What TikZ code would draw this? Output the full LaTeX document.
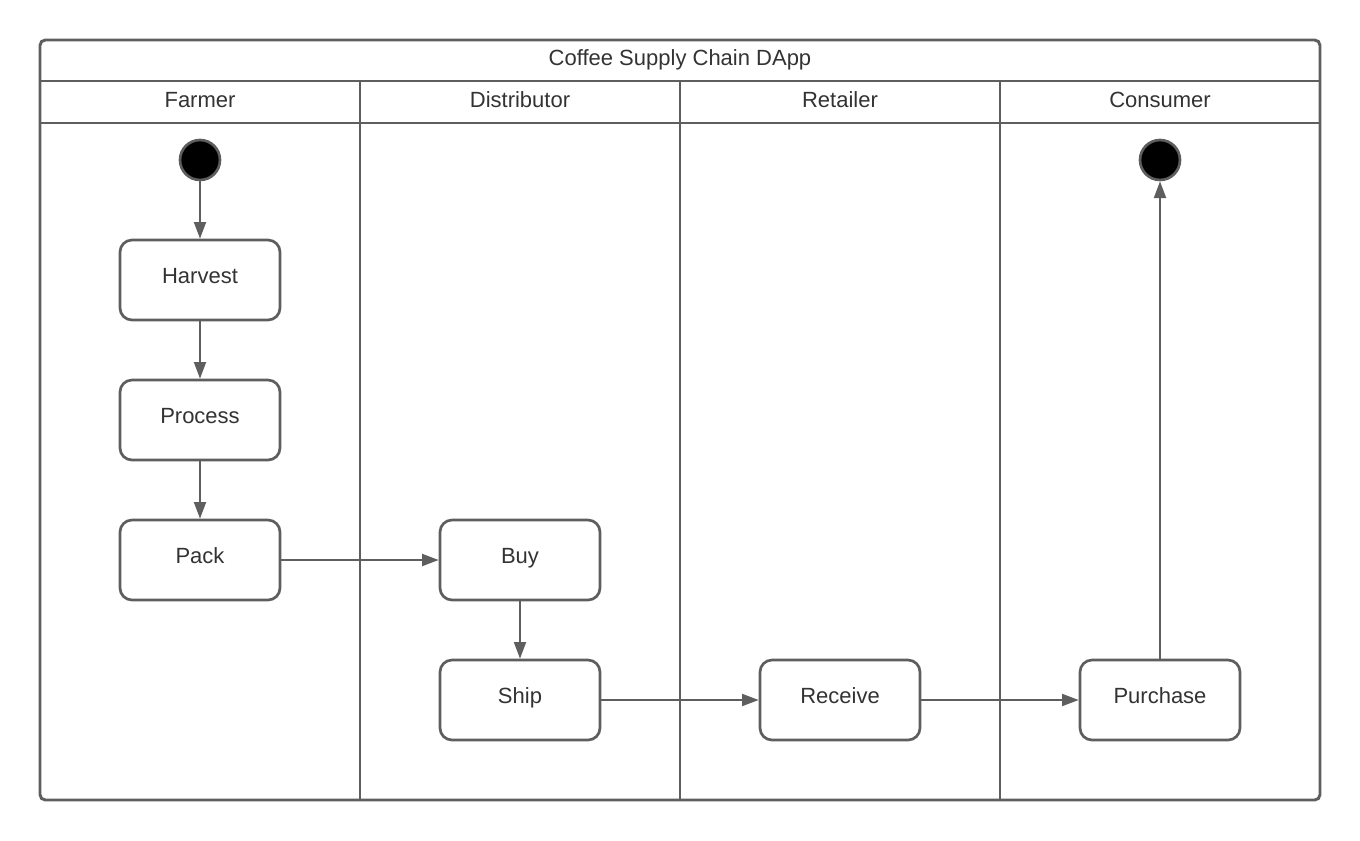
\documentclass[tikz,border=0pt]{standalone}
\usepackage{fontspec}
\setmainfont{Liberation Sans}
\usetikzlibrary{arrows.meta}
\definecolor{lc}{HTML}{5E5E5E}
\definecolor{tc}{HTML}{333333}
\tikzset{
  frame/.style={draw=lc, line width=2.2pt},
  act/.style={draw=lc, line width=2pt, rounded corners=9pt, minimum width=120pt, minimum height=60pt, inner sep=0pt, font=\fontsize{16.5}{19}\selectfont, text=tc, fill=white, text height=10pt, text depth=5pt},
  dot/.style={circle, draw=lc, line width=2pt, fill=black, minimum size=30pt, inner sep=0pt},
  flow/.style={draw=lc, line width=1.5pt, -{Triangle[length=12.5pt,width=9pt]}},
  hdr/.style={font=\fontsize{16.5}{19}\selectfont, text=tc, text height=12pt, text depth=3pt, inner sep=0pt}
}
\begin{document}
\begin{tikzpicture}[x=0.75pt,y=-0.75pt]
\useasboundingbox (0,0) rectangle (1360,840);
\fill[white] (0,0) rectangle (1360,840);
% outer frame
\draw[frame, rounded corners=4pt] (40,40) rectangle (1320,800);
\draw[frame] (40,81) -- (1320,81);
\draw[frame] (40,123) -- (1320,123);
\draw[frame] (360,81) -- (360,800);
\draw[frame] (680,81) -- (680,800);
\draw[frame] (1000,81) -- (1000,800);
\node[hdr] (title) at (680,59) {Coffee Supply Chain DApp};
\node[hdr] (h1) at (200,101) {Farmer};
\node[hdr] (h2) at (520,101) {Distributor};
\node[hdr] (h3) at (840,101) {Retailer};
\node[hdr] (h4) at (1160,101) {Consumer};
% nodes
\node[dot] (start) at (200,160) {};
\node[dot] (end) at (1160,160) {};
\node[act] (harvest) at (200,280) {Harvest};
\node[act] (process) at (200,420) {Process};
\node[act] (pack) at (200,560) {Pack};
\node[act] (buy) at (520,560) {Buy};
\node[act] (ship) at (520,700) {Ship};
\node[act] (receive) at (840,700) {Receive};
\node[act] (purchase) at (1160,700) {Purchase};
% flows
\draw[flow] (start) -- (harvest);
\draw[flow] (harvest) -- (process);
\draw[flow] (process) -- (pack);
\draw[flow] (pack) -- (buy);
\draw[flow] (buy) -- (ship);
\draw[flow] (ship) -- (receive);
\draw[flow] (receive) -- (purchase);
\draw[flow] (purchase) -- (end);
\end{tikzpicture}
\end{document}
